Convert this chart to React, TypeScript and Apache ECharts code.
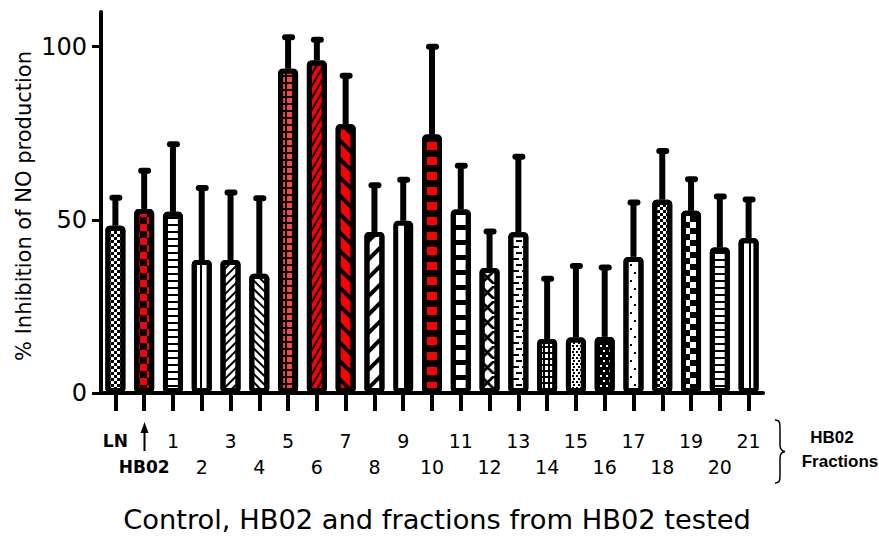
import React, { useEffect, useRef } from 'react';
import * as echarts from 'echarts';

const categories = ['LN', 'HB02', '1', '2', '3', '4', '5', '6', '7', '8', '9', '10', '11', '12', '13', '14', '15', '16', '17', '18', '19', '20', '21'];
const means = [48.3, 53.1, 52.3, 38.4, 38.4, 34.4, 93.6, 96, 77.6, 46.5, 49.7, 74.6, 53, 36.1, 46.4, 15.6, 16, 16.2, 39.3, 55.8, 52.6, 42, 44.7];
const errors = [8.1, 11.1, 19.5, 20.8, 19.5, 21.8, 9.1, 6, 14, 13.5, 11.9, 25.4, 12.6, 10.5, 21.8, 17.4, 20.7, 20, 15.7, 14.1, 9.1, 14.7, 11.2];
const yTicks = [0, 50, 100];

const W = '#ffffff';
const B = '#000000';
const R = '#ff0000';

const checker = (s: number, c: string) => ({
  symbol: 'rect', symbolSize: 1, color: c,
  dashArrayX: [[s, s], [0, s, s, 0]], dashArrayY: [s, 0],
});
const hStripes = (line: number, gap: number, c: string, rotation = 0) => ({
  symbol: 'rect', symbolSize: 1, color: c,
  dashArrayX: [1, 0], dashArrayY: [line, gap], rotation,
});
const vStripes = (line: number, gap: number, c: string) => ({
  symbol: 'rect', symbolSize: 1, color: c,
  dashArrayX: [line, gap], dashArrayY: [1, 0],
});

const XPATH = 'path://M0,0L3,0L10,7L17,0L20,0L20,3L13,10L20,17L20,20L17,20L10,13L3,20L0,20L0,17L7,10L0,3Z';

// fill style of each bar (not data): color = background, decal = pattern on top
const fills: any[] = [
  { color: W, decal: checker(3, B) },
  { color: R, decal: checker(7, B) },
  { color: W, decal: hStripes(2, 5, B) },
  { color: W, decal: vStripes(2, 6, B) },
  { color: W, decal: hStripes(2, 4, B, -Math.PI / 4) },
  { color: W, decal: hStripes(2, 4, B, Math.PI / 4) },
  { color: B, decal: { symbol: 'rect', symbolSize: 1, color: '#f24848', dashArrayX: [5, 2], dashArrayY: [5, 2] } },
  { color: R, decal: hStripes(2, 4, B, -Math.PI / 3) },
  { color: R, decal: hStripes(3.5, 9, B, Math.PI / 4) },
  { color: W, decal: hStripes(3.5, 9, B, -Math.PI / 4) },
  { color: { type: 'linear', x: 0, y: 0, x2: 1, y2: 0, colorStops: [{ offset: 0, color: W }, { offset: 0.55, color: W }, { offset: 0.55, color: B }, { offset: 1, color: B }] } },
  { color: R, decal: hStripes(7, 8, B) },
  { color: W, decal: hStripes(5, 10, B) },
  { color: W, decal: { symbol: XPATH, symbolSize: 1, color: B, dashArrayX: [13, 0], dashArrayY: [15, 0] } },
  { color: W, decal: { symbol: 'rect', symbolSize: 1, color: B, dashArrayX: [[6, 3], [0, 3, 6, 0]], dashArrayY: [2, 4] } },
  { color: B, decal: { symbol: 'rect', symbolSize: 1, color: W, dashArrayX: [3, 2], dashArrayY: [4, 2] } },
  { color: W, decal: { symbol: 'rect', symbolSize: 1, color: B, dashArrayX: [[2, 2], [0, 3, 2, 0]], dashArrayY: [2, 1] } },
  { color: B, decal: { symbol: 'rect', symbolSize: 1, color: W, dashArrayX: [[2, 4], [0, 3, 2, 1]], dashArrayY: [2, 3] } },
  { color: W, decal: { symbol: 'rect', symbolSize: 1, color: B, dashArrayX: [[2, 7], [0, 4, 2, 3]], dashArrayY: [2, 6] } },
  { color: W, decal: checker(3, B) },
  { color: W, decal: checker(6, B) },
  { color: W, decal: hStripes(2, 5, B) },
  { color: W, decal: vStripes(2, 5, B) },
];

const FONT = 'DejaVu Sans';

export default function App() {
  const ref = useRef<HTMLDivElement>(null);
  useEffect(() => {
    document.body.style.margin = '0';
    if (!ref.current) return;
    echarts.graphic.registerShape(
      'brace',
      echarts.graphic.extendPath('M0,0 C5,0 5,3 5,9 L5,25 C5,29 7,31 10,31.5 C7,32 5,34 5,38 L5,54 C5,60 5,63 0,63', {}) as any
    );
    const chart = echarts.init(ref.current, null, { renderer: 'svg' });
    chart.setOption({
      animation: false,
      backgroundColor: '#ffffff',
      grid: { left: 101, right: 116, top: 12, bottom: 143, outerBoundsMode: 'none' } as any,
      xAxis: {
        type: 'category',
        data: categories,
        axisLine: { show: true, lineStyle: { color: B, width: 4 } },
        axisTick: { show: true, alignWithLabel: true, length: 18, lineStyle: { color: B, width: 4 } },
        axisLabel: {
          interval: 0,
          margin: 35,
          color: B,
          formatter: (v: string, i: number) => {
            if (i === 0) return '{bold|' + v + '}';
            if (i === 1) return '{sp| }\n{bold|' + v + '}';
            return i % 2 === 0 ? '{num|' + v + '}' : '{sp| }\n{num|' + v + '}';
          },
          rich: {
            num: { fontSize: 19, fontFamily: FONT, lineHeight: 26, color: B },
            bold: { fontSize: 17, fontFamily: FONT, fontWeight: 'bold', lineHeight: 26, color: B },
            sp: { fontSize: 18, lineHeight: 26 },
          },
        },
        splitLine: { show: false },
      },
      yAxis: {
        type: 'value',
        min: 0,
        max: 110,
        interval: 50,
        axisLine: { show: true, lineStyle: { color: B, width: 4 } },
        axisTick: { show: true, length: 9, lineStyle: { color: B, width: 3 }, customValues: yTicks },
        axisLabel: { color: B, fontSize: 24, fontFamily: FONT, margin: 14, customValues: yTicks },
        splitLine: { show: false },
      },
      series: [
        {
          type: 'custom',
          z: 1,
          data: categories.map((c, i) => [i, means[i], errors[i]]),
          renderItem: (params: any, api: any) => {
            const idx = api.value(0);
            const m = api.value(1);
            const e = api.value(2);
            const base = api.coord([idx, m]);
            const top = api.coord([idx, m + e]);
            const x = base[0];
            return {
              type: 'group',
              children: [
                { type: 'rect', shape: { x: x - 3, y: top[1], width: 6, height: base[1] - top[1] }, style: { fill: B } },
                { type: 'rect', shape: { x: x - 6, y: top[1] - 3, width: 13, height: 6, r: 3 }, style: { fill: B } },
              ],
            };
          },
        },
        {
          type: 'bar',
          z: 2,
          barWidth: 20,
          data: means.map((v, i) => ({
            value: v,
            itemStyle: { ...fills[i], borderColor: B, borderWidth: 5, borderRadius: 2 },
          })),
        },
      ],
      graphic: [
        {
          type: 'text',
          x: 24, y: 206, rotation: Math.PI / 2,
          style: { text: '% Inhibition of NO production', fontSize: 21, fontFamily: FONT, fill: B, align: 'center', verticalAlign: 'middle' },
        },
        {
          type: 'text',
          x: 437, y: 520, scaleX: 1.05,
          style: { text: 'Control, HB02 and fractions from HB02 tested', fontSize: 26, fontFamily: FONT, fill: B, align: 'center', verticalAlign: 'middle' },
        },
        {
          type: 'line',
          shape: { x1: 144.5, y1: 430, x2: 144.5, y2: 451 },
          style: { stroke: B, lineWidth: 2 },
        },
        {
          type: 'polygon',
          shape: { points: [[140.5, 433], [144.5, 422], [148.5, 433]] },
          style: { fill: B },
        },
        {
          type: 'brace',
          x: 775, y: 420,
          style: { stroke: B, fill: 'none', lineWidth: 1.5 },
        },
        {
          type: 'text',
          x: 832, y: 437,
          style: { text: 'HB02', fontSize: 17, fontFamily: 'Liberation Sans', fontWeight: 'bold', fill: B, align: 'center', verticalAlign: 'middle' },
        },
        {
          type: 'text',
          x: 840, y: 461,
          style: { text: 'Fractions', fontSize: 17, fontFamily: 'Liberation Sans', fontWeight: 'bold', fill: B, align: 'center', verticalAlign: 'middle' },
        },
      ],
    });
    return () => chart.dispose();
  }, []);
  return <div ref={ref} style={{ width: 879, height: 536 }} />;
}
